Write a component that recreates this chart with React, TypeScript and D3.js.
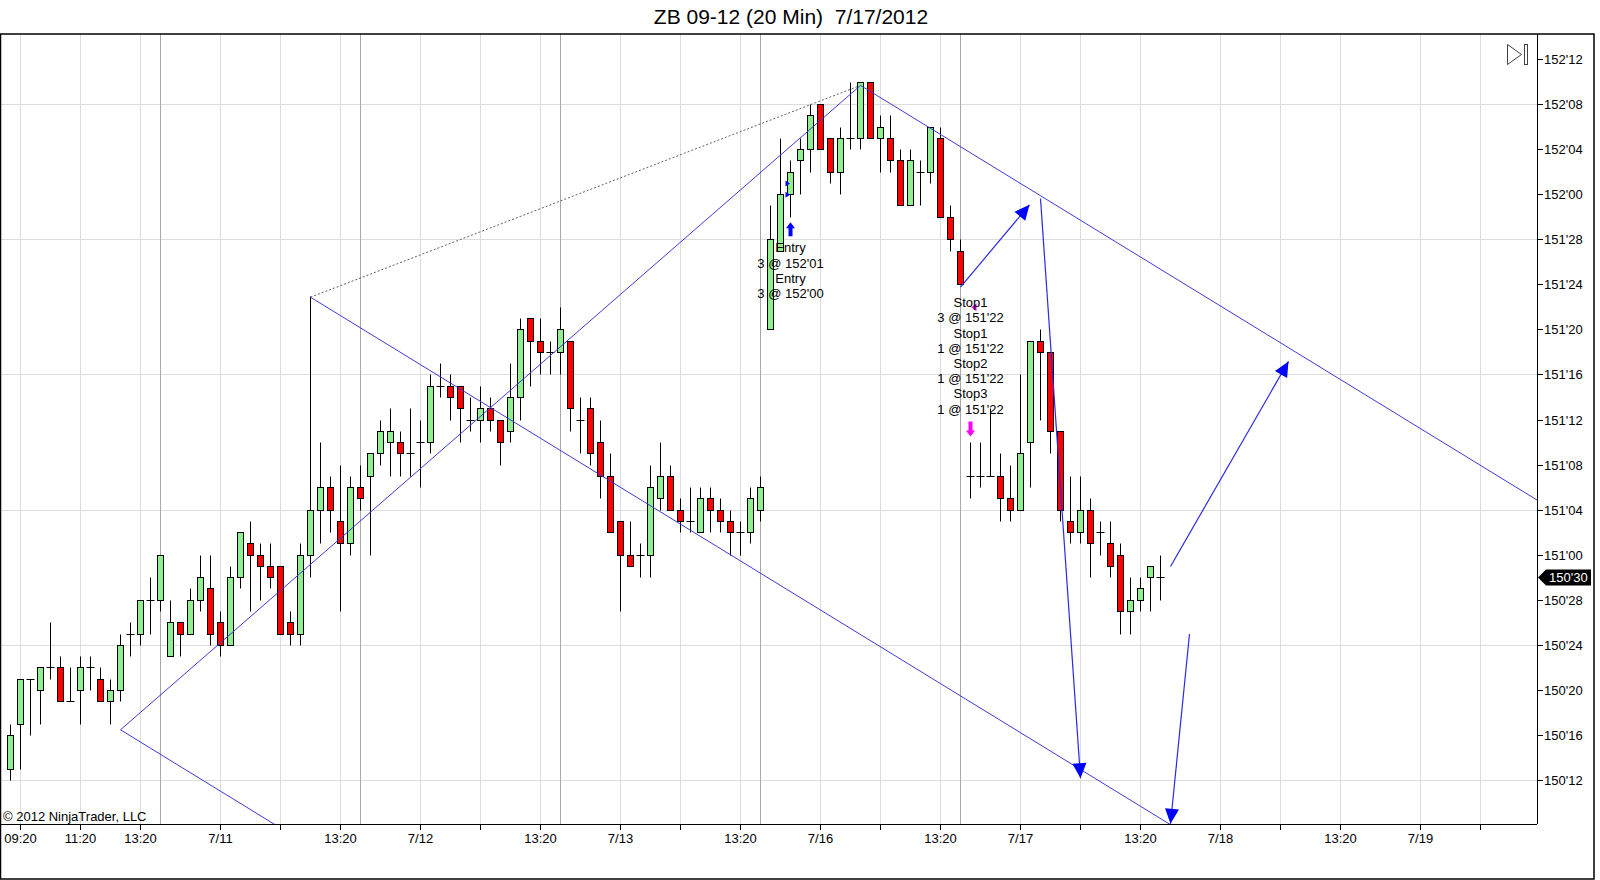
import React from 'react';
import * as d3 from 'd3';

const title = "ZB 09-12 (20 Min)  7/17/2012";
const copyright = "\u00A9 2012 NinjaTrader, LLC";

// prices in 32nds above 150'00
const opens = [13,17,21,20,22,22,19,20,22,21,19,20,25,25,28,28,23,26,25,28,29,26,24,30,33,32,31,31,26,25,32,36,38,35,33,38,39,41,42,42,41,42,42,47,47,47,44,44,45,44,43,46,53,51,50,50,51,44,45,42,39,35,32,32,32,37,39,36,35,34,37,36,35,34,34,36,52,59,64,67,68,72,69,66,69,69,74,69,69,67,63,66,66,69,62,59,39,39,39,39,37,36,42,51,50,43,35,34,36,34,33,32,27,28,30,30];
const highs = [17,21,21,22,26,23,22,23,23,22,21,25,26,28,30,32,28,26,29,32,32,27,31,34,35,33,33,31,27,33,55,42,39,40,39,40,41,44,45,43,45,44,48,49,48,47,46,47,46,44,49,53,53,53,51,54,51,46,46,44,41,35,35,33,40,42,40,37,38,38,38,37,36,35,38,39,63,69,67,69,72,72,69,70,74,74,74,71,71,68,68,67,70,70,63,60,42,42,45,41,40,48,51,52,50,43,39,39,37,35,35,33,30,30,31,32];
const lows = [12,13,16,17,21,19,19,17,20,19,17,19,23,24,25,27,23,23,25,27,24,23,24,29,27,28,29,25,24,24,30,33,34,27,32,36,32,40,39,39,39,38,41,46,44,42,43,42,43,40,42,44,47,48,48,48,43,41,40,37,34,27,31,30,30,36,36,34,34,34,34,34,32,32,33,35,52,59,62,64,66,68,65,64,68,68,69,66,66,63,63,63,65,62,59,56,37,38,39,35,35,36,38,44,41,35,33,33,30,32,30,25,25,27,27,28];
const closes = [16,21,21,22,22,19,19,22,22,19,20,24,25,28,28,32,26,25,28,30,25,24,30,34,32,31,30,25,25,32,36,38,36,33,38,37,41,43,43,41,41,42,47,47,46,45,44,45,44,42,46,52,51,50,50,52,45,44,41,39,34,32,31,32,38,39,36,35,35,37,36,35,34,34,37,38,60,64,66,68,71,68,66,69,69,74,69,70,67,63,67,66,70,62,60,56,39,39,39,37,36,41,51,50,43,36,34,36,33,34,31,27,28,29,31,30];

const sessionBreakBars = [15, 35, 55, 75, 95];
const xTickBars = [1, 7, 13, 21, 27, 33, 41, 47, 53, 61, 67, 73, 81, 87, 93, 101, 107, 113, 121, 127, 133, 141, 147];
const xTickLabels = ["09:20","11:20","13:20","7/11","","13:20","7/12","","13:20","7/13","","13:20","7/16","","13:20","7/17","","13:20","7/18","","13:20","7/19",""];
const yTickLabels = ["150'12","150'16","150'20","150'24","150'28","151'00","151'04","151'08","151'12","151'16","151'20","151'24","151'28","152'00","152'04","152'08","152'12"];
const yGridLabels = ["150'12","150'24","151'04","151'16","151'28","152'08"];

// drawing objects in (bar index, 32nds)
const trendLines = [
  { from: [11, 16.5], to: [85, 73.7] },
  { from: [11, 16.5], to: [40, 0.7] },
  { from: [30, 54.9], to: [120, 5.9] },
  { from: [85, 73.7], to: [160, 32.9] },
];
const dottedLine = { from: [30, 54.9], to: [85, 73.7] };
const arrowLines = [
  { from: [95, 55.8], to: [101.9, 63.1] },
  { from: [103, 63.66], to: [107, 12.2] },
  { from: [116, 31.0], to: [127.8, 49.2] },
  { from: [117.9, 25.0], to: [116, 8.16] },
];
const entryBar = 78;
const entryPrices = [65, 64];
const entryTexts = ["Entry", "3 @ 152'01", "Entry", "3 @ 152'00"];
const exitBar = 96;
const exitPrices = [54];
const exitTexts = ["Stop1", "3 @ 151'22", "Stop1", "1 @ 151'22", "Stop2", "1 @ 151'22", "Stop3", "1 @ 151'22"];

const parsePrice = (s: string) => {
  const [a, b] = s.split("'");
  return (parseInt(a, 10) - 150) * 32 + parseInt(b, 10);
};
const fmtPrice = (t: number) => {
  const whole = 150 + Math.floor(t / 32);
  const frac = t % 32;
  return `${whole}'${frac < 10 ? '0' : ''}${frac}`;
};

const PL = 0, PT = 34, PR = 1537, PB = 824;
const FONT = "'Liberation Sans', Arial, sans-serif";

const xScale = d3.scaleLinear().domain([0, 1]).range([10.5, 20.5]);
const yScale = d3.scaleLinear().domain([12, 76]).range([780.5, 59.5]);
const snap = (v: number) => Math.floor(v) + 0.5;

function arrowHead(x1: number, y1: number, x2: number, y2: number, len = 15, hw = 7) {
  const ang = Math.atan2(y2 - y1, x2 - x1);
  const bx = x2 - len * Math.cos(ang), by = y2 - len * Math.sin(ang);
  const px = -Math.sin(ang) * hw, py = Math.cos(ang) * hw;
  return `${x2},${y2} ${bx + px},${by + py} ${bx - px},${by - py}`;
}

export default function App() {
  const n = opens.length;
  const lineGen = d3.line<number[]>().x(d => xScale(d[0])).y(d => yScale(d[1]));

  const candles = [];
  for (let i = 0; i < n; i++) {
    const cx = xScale(i);
    const yo = snap(yScale(opens[i])), yc = snap(yScale(closes[i]));
    const yh = snap(yScale(highs[i])), yl = snap(yScale(lows[i]));
    candles.push(
      <g key={i}>
        <line x1={cx} x2={cx} y1={yh} y2={yl} stroke="#000" strokeWidth={1} />
        {opens[i] === closes[i] ? (
          <line x1={cx - 4} x2={cx + 4} y1={yo} y2={yo} stroke="#000" strokeWidth={1} />
        ) : (
          <rect x={cx - 3} y={Math.min(yo, yc)} width={6} height={Math.abs(yo - yc)}
            fill={closes[i] > opens[i] ? '#90EE90' : '#FF0000'} stroke="#000" strokeWidth={1} />
        )}
      </g>
    );
  }

  const ecx = xScale(entryBar);
  const eLow = yScale(lows[entryBar]);
  const upTop = eLow + 5;
  const xcx = xScale(exitBar);
  const xHigh = yScale(highs[exitBar]);
  const dnBot = xHigh - 6;

  const lastClose = closes[n - 1];
  const ly = snap(yScale(lastClose));

  return (
    <svg width={1600} height={880} style={{ position: 'absolute', left: 0, top: 0, background: '#fff' }}
      fontFamily={FONT}>
      <defs>
        <clipPath id="plot"><rect x={PL} y={PT} width={PR - PL} height={PB - PT} /></clipPath>
      </defs>
      <rect x={0} y={0} width={1600} height={880} fill="#fff" />
      <text x={791} y={23.5} fontSize={21} textAnchor="middle" fill="#000" style={{ whiteSpace: 'pre' }}>{title}</text>

      {/* grid */}
      {yGridLabels.map(s => (
        <line key={s} x1={PL} x2={PR} y1={snap(yScale(parsePrice(s)))} y2={snap(yScale(parsePrice(s)))} stroke="#dcdcdc" />
      ))}
      {xTickBars.map(b => (
        <line key={'g' + b} x1={xScale(b)} x2={xScale(b)} y1={PT} y2={PB} stroke="#dcdcdc" />
      ))}
      {sessionBreakBars.map(b => (
        <line key={'s' + b} x1={xScale(b)} x2={xScale(b)} y1={PT} y2={PB} stroke="#a8a8a8" />
      ))}

      <g clipPath="url(#plot)">
        {/* dotted */}
        <path d={lineGen([dottedLine.from, dottedLine.to]) || ''} stroke="#606060" strokeDasharray="2,2" fill="none" />
        {candles}
        {trendLines.map((l, k) => (
          <path key={'t' + k} d={lineGen([l.from, l.to]) || ''} stroke="#3b3bd6" strokeWidth={1} fill="none" />
        ))}
        {arrowLines.map((l, k) => {
          const x1 = xScale(l.from[0]), y1 = yScale(l.from[1]);
          const x2 = xScale(l.to[0]), y2 = yScale(l.to[1]);
          return (
            <g key={'a' + k}>
              <line x1={x1} y1={y1} x2={x2} y2={y2} stroke="#2a2ae0" strokeWidth={1.2} />
              <polygon points={arrowHead(x1, y1, x2, y2)} fill="#0000ff" />
            </g>
          );
        })}

        {/* executions */}
        {entryPrices.map((p, k) => {
          const y = yScale(p);
          return <polygon key={'ep' + k} points={`${ecx - 5},${y - 3} ${ecx - 0.5},${y} ${ecx - 5},${y + 3}`} fill="#0000ff" />;
        })}
        <polygon fill="#0000ff" points={`${ecx},${upTop} ${ecx + 4.5},${upTop + 6} ${ecx + 2},${upTop + 6} ${ecx + 2},${upTop + 14} ${ecx - 2},${upTop + 14} ${ecx - 2},${upTop + 6} ${ecx - 4.5},${upTop + 6}`} />
        {entryTexts.map((t, k) => (
          <text key={'et' + k} x={ecx} y={upTop + 30 + k * 15.3} fontSize={13} textAnchor="middle" fill="#000">{t}</text>
        ))}

        {exitPrices.map((p, k) => {
          const y = yScale(p);
          return <polygon key={'xp' + k} points={`${xcx + 6},${y - 4} ${xcx + 1},${y} ${xcx + 6},${y + 4}`} fill="#ff00ff" />;
        })}
        <polygon fill="#ff00ff" points={`${xcx},${dnBot} ${xcx + 4.5},${dnBot - 6} ${xcx + 2},${dnBot - 6} ${xcx + 2},${dnBot - 15} ${xcx - 2},${dnBot - 15} ${xcx - 2},${dnBot - 6} ${xcx - 4.5},${dnBot - 6}`} />
        {exitTexts.map((t, k) => (
          <text key={'xt' + k} x={xcx} y={dnBot - 23 - (exitTexts.length - 1 - k) * 15.2} fontSize={13} textAnchor="middle" fill="#000">{t}</text>
        ))}

        <text x={3} y={821} fontSize={13} fill="#000">{copyright}</text>
      </g>

      {/* right axis */}
      <line x1={PR + 0.5} x2={PR + 0.5} y1={PT} y2={PB} stroke="#000" />
      {yTickLabels.map(s => {
        const y = snap(yScale(parsePrice(s)));
        return (
          <g key={'y' + s}>
            <line x1={PR} x2={PR + 6} y1={y} y2={y} stroke="#000" />
            <text x={PR + 7} y={y + 4.5} fontSize={13} fill="#000">{s}</text>
          </g>
        );
      })}
      {/* bottom axis */}
      <line x1={PL} x2={PR} y1={PB + 0.5} y2={PB + 0.5} stroke="#000" />
      {xTickBars.map((b, k) => (
        <g key={'x' + b}>
          <line x1={xScale(b)} x2={xScale(b)} y1={PB} y2={PB + 6} stroke="#000" />
          {xTickLabels[k] && <text x={xScale(b)} y={843} fontSize={13} textAnchor="middle" fill="#000">{xTickLabels[k]}</text>}
        </g>
      ))}

      {/* last price marker */}
      <polygon points={`${PR + 1},${ly} ${PR + 9},${ly - 8} ${1591},${ly - 8} ${1591},${ly + 8} ${PR + 9},${ly + 8}`} fill="#000" />
      <text x={1549} y={ly + 4.5} fontSize={13} fill="#fff">{fmtPrice(lastClose)}</text>

      {/* scroll icon */}
      <polygon points="1507.5,44.5 1521.5,54.5 1507.5,64.5" fill="none" stroke="#404040" />
      <rect x={1524.5} y={44.5} width={3} height={20} fill="none" stroke="#404040" />

      {/* frame */}
      <rect x={0.5} y={34} width={1593.5} height={845} fill="none" stroke="#000" strokeWidth={1.5} />
    </svg>
  );
}
